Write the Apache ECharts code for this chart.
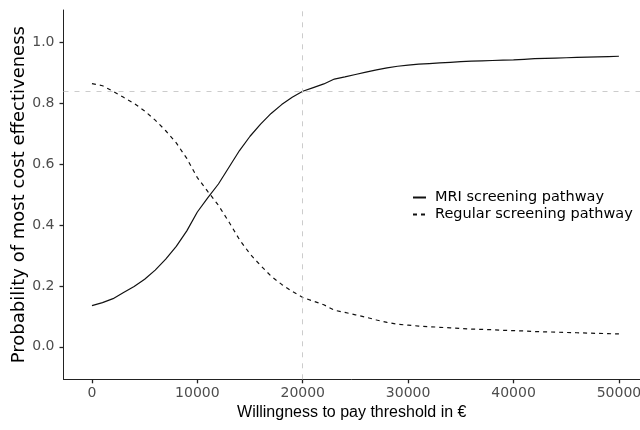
<!DOCTYPE html>
<html>
<head>
<meta charset="utf-8">
<script src="https://cdn.jsdelivr.net/npm/echarts@6/dist/echarts.min.js"></script>
<style>
  html, body { margin: 0; padding: 0; background: #fff; }
  #app { width: 640px; height: 430px; }
</style>
</head>
<body>
<div id="app"></div>
<script>
// willingness to pay thresholds (euro)
var thresholds = [];
for (var t = 0; t <= 50000; t += 1000) thresholds.push(t);

var mriValues = [0.135, 0.145, 0.158, 0.178, 0.198, 0.222, 0.252, 0.288, 0.330, 0.381, 0.443,
  0.490, 0.535, 0.590, 0.645, 0.692, 0.732, 0.767, 0.796, 0.820, 0.840, 0.852, 0.864, 0.880,
  0.887, 0.895, 0.903, 0.910, 0.917, 0.922, 0.926, 0.929, 0.931, 0.933, 0.935, 0.937, 0.939,
  0.940, 0.941, 0.942, 0.943, 0.945, 0.947, 0.948, 0.949, 0.950, 0.951, 0.952, 0.953, 0.954, 0.955];

var regularValues = [0.865, 0.858, 0.840, 0.820, 0.800, 0.775, 0.745, 0.710, 0.670, 0.619, 0.556,
  0.510, 0.465, 0.410, 0.352, 0.305, 0.267, 0.232, 0.205, 0.182, 0.162, 0.150, 0.138, 0.120,
  0.113, 0.105, 0.097, 0.088, 0.080, 0.074, 0.071, 0.068, 0.066, 0.064, 0.062, 0.060, 0.058,
  0.057, 0.056, 0.054, 0.053, 0.052, 0.050, 0.049, 0.048, 0.047, 0.046, 0.045, 0.044, 0.043, 0.042];

var xTicks = [0, 10000, 20000, 30000, 40000, 50000];
var yTicks = [0, 0.2, 0.4, 0.6, 0.8, 1.0];
var refThreshold = 20000;
var refProbability = 0.84;

var myChart = echarts.init(document.getElementById('app'));

function pairs(ys) {
  return thresholds.map(function (x, i) { return [x, ys[i]]; });
}

var option = {
  animation: false,
  textStyle: { fontFamily: 'Liberation Sans' },
  grid: { left: 63.5, right: 0, top: 10, bottom: 50.7, outerBoundsMode: 'none' },
  legend: {
    orient: 'vertical',
    left: 407,
    top: 185,
    itemWidth: 13,
    itemHeight: 14,
    itemGap: 2,
    itemStyle: { opacity: 0 },
    textStyle: {
      fontSize: 14.5, lineHeight: 14, color: '#000', fontFamily: 'DejaVu Sans',
      padding: [0, 0, 0, 4]
    },
    data: ['MRI screening pathway', 'Regular screening pathway']
  },
  xAxis: {
    type: 'value',
    min: -2700,
    max: 52000,
    splitLine: { show: false },
    axisLine: { onZero: false, lineStyle: { color: '#222', width: 1 } },
    axisTick: {
      show: true, inside: false, customValues: xTicks, length: 4,
      lineStyle: { color: '#222', width: 1.3 }
    },
    axisLabel: {
      customValues: xTicks, fontSize: 14, color: '#4d4d4d', margin: 7, fontFamily: 'DejaVu Sans',
      formatter: function (v) { return String(v); }
    },
    name: 'Willingness to pay threshold in €',
    nameLocation: 'middle',
    nameGap: 25,
    nameMoveOverlap: false,
    nameTextStyle: { fontSize: 16, color: '#000' }
  },
  yAxis: {
    type: 'value',
    min: -0.107,
    max: 1.107,
    splitLine: { show: false },
    axisLine: { show: true, onZero: false, lineStyle: { color: '#222', width: 1 } },
    axisTick: {
      show: true, inside: false, customValues: yTicks, length: 4,
      lineStyle: { color: '#222', width: 1.3 }
    },
    axisLabel: {
      customValues: yTicks, fontSize: 14, color: '#4d4d4d', margin: 9, fontFamily: 'DejaVu Sans',
      formatter: function (v) { return v.toFixed(1); }
    },
    name: 'Probability of most cost effectiveness',
    nameLocation: 'middle',
    nameGap: 35,
    nameMoveOverlap: false,
    nameTextStyle: { fontSize: 18, color: '#000', fontFamily: 'DejaVu Sans' }
  },
  series: [
    {
      name: 'MRI screening pathway',
      type: 'line',
      data: pairs(mriValues),
      symbol: 'none',
      lineStyle: { color: '#111', width: 1.2, type: 'solid' },
      itemStyle: { color: '#111' },
      markLine: {
        silent: true,
        symbol: 'none',
        label: { show: false },
        lineStyle: { color: '#cccccc', type: [5, 6], width: 1 },
        data: [{ xAxis: refThreshold }, { yAxis: refProbability }]
      },
      z: 3
    },
    {
      name: 'Regular screening pathway',
      type: 'line',
      data: pairs(regularValues),
      symbol: 'none',
      lineStyle: { color: '#111', width: 1.2, type: [4, 4] },
      itemStyle: { color: '#111' },
      z: 3
    }
  ]
};

myChart.setOption(option);
</script>
</body>
</html>
